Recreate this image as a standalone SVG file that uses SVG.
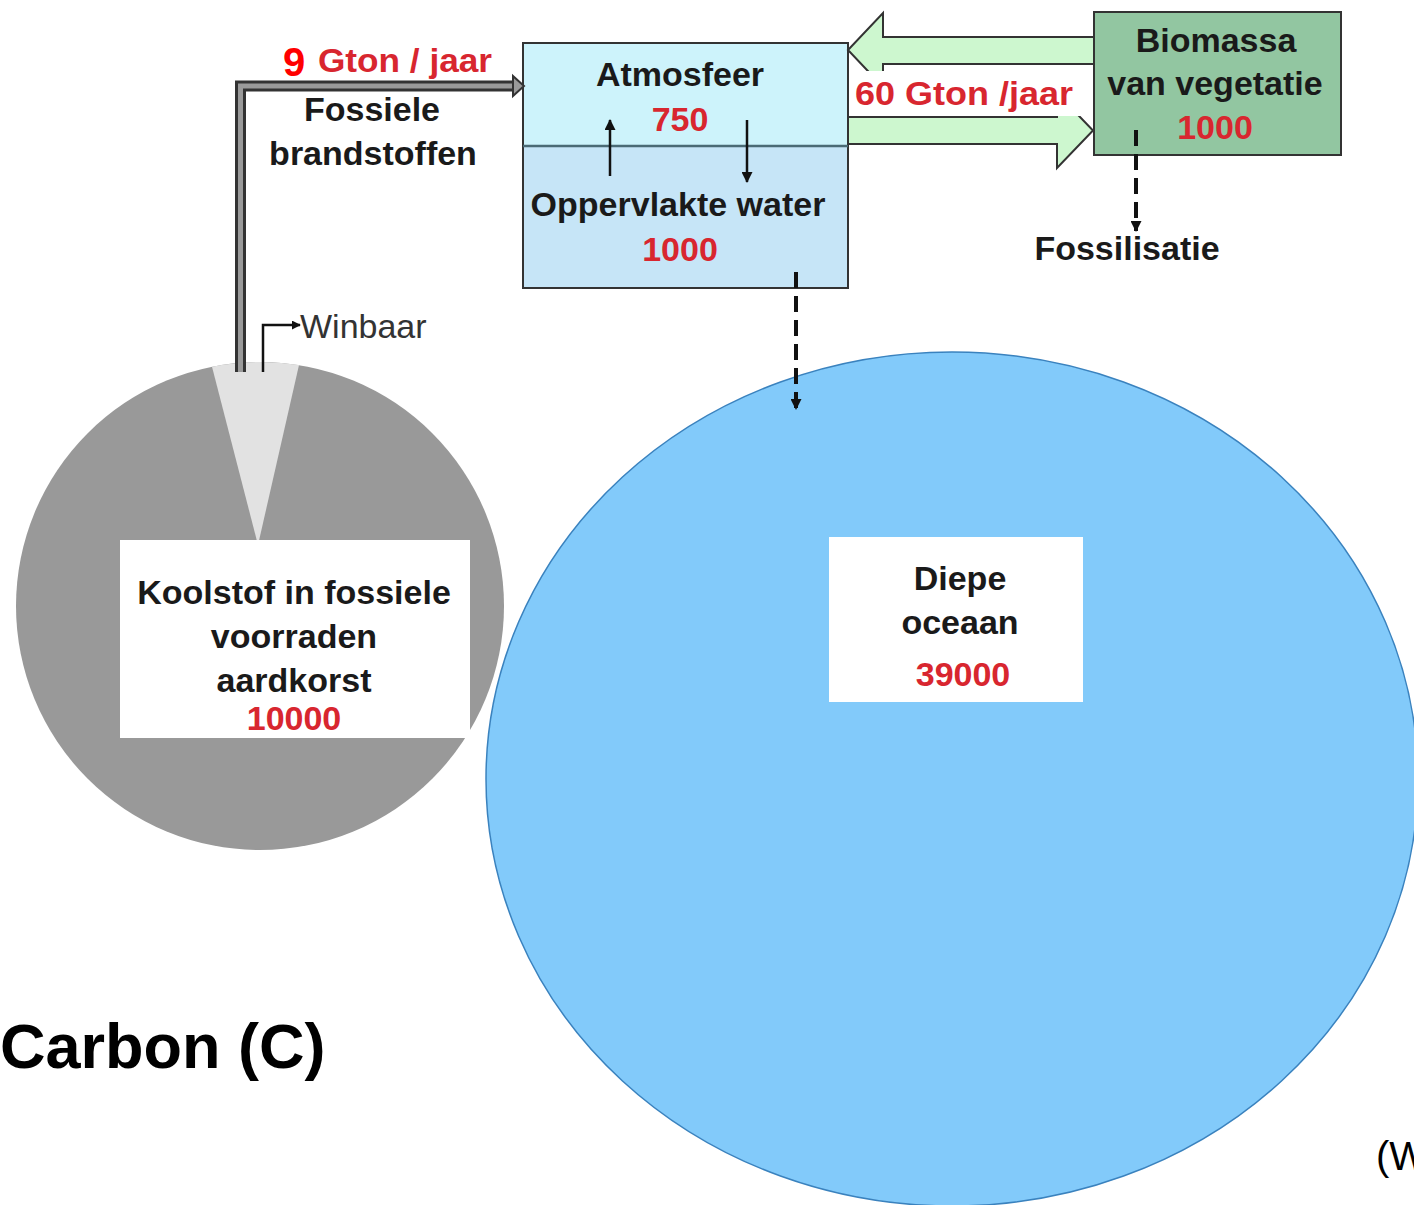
<svg xmlns="http://www.w3.org/2000/svg" width="1414" height="1205" viewBox="0 0 1414 1205">
<style>
text{font-family:"Liberation Sans",Arial,sans-serif;font-weight:bold;font-size:34px;fill:#1a1a1a;text-anchor:middle}
.red{fill:#d8262f}
.box{stroke:#333;stroke-width:2}
.dash{stroke:#111;stroke-width:4;stroke-dasharray:16 8;fill:none}
.thin{stroke:#111;stroke-width:2.5;fill:none}
.garrow{fill:#cdf7cf;stroke:#333;stroke-width:2}
</style>
<defs>
<marker id="ah" viewBox="0 0 10 10" refX="9" refY="5" markerWidth="9" markerHeight="9" orient="auto" markerUnits="userSpaceOnUse">
<path d="M0 0L10 5L0 10z" fill="#111"/>
</marker>
<marker id="ah2" viewBox="0 0 10 10" refX="9" refY="5" markerWidth="12" markerHeight="11" orient="auto" markerUnits="userSpaceOnUse">
<path d="M0 0L10 5L0 10z" fill="#111"/>
</marker>
</defs>
<rect width="1414" height="1205" fill="#fff"/>

<g id="fossiel">
<circle cx="260" cy="606" r="244" fill="#999"/>
<path d="M258 545 L212 366.8 A244 244 0 0 1 299 365.1 Z" fill="#e2e2e2"/>
<rect x="120" y="540" width="350" height="198" fill="#fff"/>
<text x="294" y="604">Koolstof in fossiele</text>
<text x="294" y="648">voorraden</text>
<text x="294" y="692">aardkorst</text>
<text x="294" y="730" class="red">10000</text>
</g>

<g id="oceaan">
<ellipse cx="952" cy="779" rx="466" ry="427" fill="#82cafa" stroke="#3a82be" stroke-width="1.5"/>
<rect x="829" y="537" width="254" height="165" fill="#fff"/>
<text x="960" y="590">Diepe</text>
<text x="960" y="634">oceaan</text>
<text x="963" y="686" class="red">39000</text>
</g>

<g id="atmosfeer">
<rect x="523" y="43" width="325" height="103" fill="#cdf3fb"/>
<rect x="523" y="146" width="325" height="142" fill="#c6e5f7"/>
<rect x="523" y="43" width="325" height="245" fill="none" class="box"/>
<line x1="523" y1="146" x2="848" y2="146" stroke="#4a6a75" stroke-width="2.5"/>
<text x="680" y="86">Atmosfeer</text>
<text x="680" y="131" class="red">750</text>
<text x="678" y="216">Oppervlakte water</text>
<text x="680" y="261" class="red">1000</text>
</g>

<g id="biomassa">
<rect x="1094" y="12" width="247" height="143" fill="#92c6a1" class="box"/>
<text x="1216" y="52">Biomassa</text>
<text x="1215" y="95">van vegetatie</text>
<text x="1215" y="139" class="red">1000</text>
</g>

<g id="connectors">
<path d="M1094 37 H883 V13 L848 50 L883 87 V64 H1094 Z" class="garrow"/>
<path d="M848 117 H1057 V93 L1093 130.5 L1057 168 V144 H848 Z" class="garrow"/>
<rect x="851" y="71" width="238" height="45" fill="#fff"/>
<path d="M240.5 372 V86 H514" fill="none" stroke="#333" stroke-width="11"/>
<path d="M240.5 372 V86 H516" fill="none" stroke="#9a9a9a" stroke-width="5"/>
<path d="M513 76 L524 86 L513 96 Z" fill="#9a9a9a" stroke="#333" stroke-width="2"/>
<path d="M263 372 V325 H300" class="thin" marker-end="url(#ah)" stroke-width="2"/>
<line x1="610" y1="176" x2="610" y2="120" class="thin" marker-end="url(#ah2)"/>
<line x1="747" y1="120" x2="747" y2="182" class="thin" marker-end="url(#ah2)"/>
<line x1="796" y1="272" x2="796" y2="409" class="dash" marker-end="url(#ah2)"/>
<line x1="1136" y1="130" x2="1136" y2="231" class="dash" marker-end="url(#ah2)"/>
</g>

<g id="labels">
<text x="283" y="76" style="text-anchor:start;font-size:40px;fill:#ff0000">9</text>
<text x="318" y="72" class="red" style="text-anchor:start" textLength="174" lengthAdjust="spacingAndGlyphs">Gton / jaar</text>
<text x="372" y="121">Fossiele</text>
<text x="373" y="165">brandstoffen</text>
<text x="855" y="105" class="red" style="text-anchor:start" textLength="218" lengthAdjust="spacingAndGlyphs">60 Gton /jaar</text>
<text x="1127" y="260">Fossilisatie</text>
<text x="300" y="338" style="text-anchor:start;font-weight:normal;fill:#333">Winbaar</text>
<text x="0" y="1068" style="text-anchor:start;font-size:63px;fill:#000">Carbon (C)</text>
<text x="1376" y="1170" style="text-anchor:start;font-weight:normal;font-size:40px;fill:#000">(W</text>
</g>
</svg>
